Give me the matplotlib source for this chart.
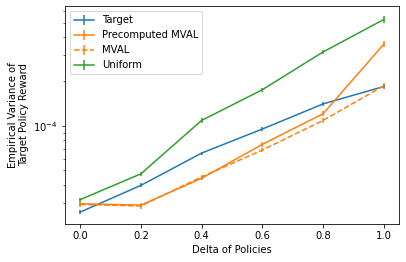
import matplotlib
matplotlib.use("Agg")
import matplotlib.pyplot as plt
import numpy as np

deltas = [0.0, 0.2, 0.4, 0.6, 0.8, 1.0]

target = [2.61e-5, 3.96e-5, 6.55e-5, 9.53e-5, 1.41e-4, 1.85e-4]
target_err = [0.8e-6, 1.2e-6, 1.6e-6, 2.6e-6, 4.0e-6, 6.0e-6]

precomputed = [2.97e-5, 2.91e-5, 4.42e-5, 7.51e-5, 1.21e-4, 3.58e-4]
precomputed_err = [1.0e-6, 1.0e-6, 1.4e-6, 2.8e-6, 5.0e-6, 1.8e-5]

mval = [2.94e-5, 2.87e-5, 4.52e-5, 6.87e-5, 1.09e-4, 1.87e-4]
mval_err = [1.0e-6, 1.1e-6, 1.4e-6, 2.6e-6, 4.5e-6, 9.0e-6]

uniform = [3.17e-5, 4.74e-5, 1.09e-4, 1.76e-4, 3.17e-4, 5.26e-4]
uniform_err = [1.0e-6, 1.6e-6, 4.0e-6, 5.0e-6, 8.0e-6, 3.0e-5]

fig = plt.figure(figsize=(406 / 72, 262 / 72), dpi=72)
ax = fig.add_axes([65 / 406, 1 - 224 / 262, 334 / 406, 218 / 262])

ax.errorbar(deltas, target, yerr=target_err, color="C0", label="Target")
ax.errorbar(deltas, precomputed, yerr=precomputed_err, color="C1", label="Precomputed MVAL")
ax.errorbar(deltas, mval, yerr=mval_err, color="C1", linestyle="--", label="MVAL")
ax.errorbar(deltas, uniform, yerr=uniform_err, color="C2", label="Uniform")

ax.set_yscale("log")
ax.set_xlabel("Delta of Policies")
ax.set_ylabel("Empirical Variance of\nTarget Policy Reward")
ax.legend(loc="upper left")

fig.savefig("out.png", dpi=72)
